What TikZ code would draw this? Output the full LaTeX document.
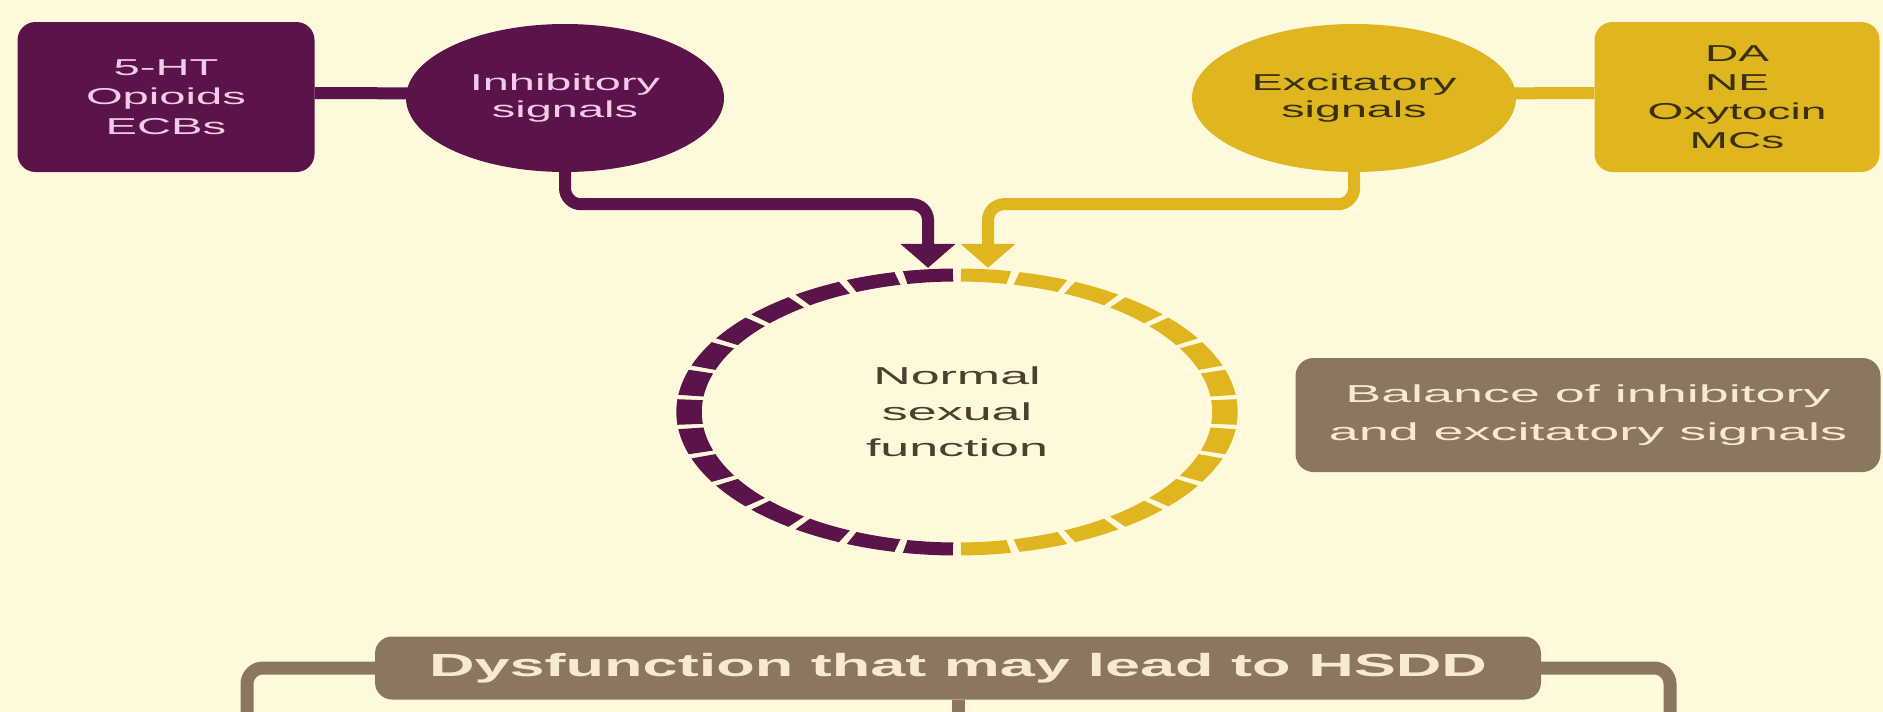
\documentclass[tikz,border=0pt]{standalone}
\usepackage{fontspec}
\setmainfont{Liberation Sans}
\usepackage{graphicx}
\usetikzlibrary{arrows.meta,shapes.geometric}
\pgfdeclarelayer{bgfill}
\pgfdeclarelayer{wires}
\pgfsetlayers{bgfill,wires,main}
\definecolor{bgc}{HTML}{FFF9DC}
\definecolor{plum}{HTML}{5A1449}
\definecolor{gold}{HTML}{DFB620}
\definecolor{taupe}{HTML}{8B775F}
\definecolor{pinktxt}{HTML}{F2CBE4}
\definecolor{darktxt}{HTML}{3A3010}
\definecolor{normtxt}{HTML}{4A4030}
\definecolor{creamtxt}{HTML}{F7EAD2}
\newcommand{\xs}[1]{\scalebox{\myxs}[1]{#1}}
\def\myxs{2}
\begin{document}
\begin{tikzpicture}[x=1pt,y=-1pt,
  rbox/.style={rectangle, rounded corners=18pt, inner sep=0pt, align=center},
  oval/.style={ellipse, inner sep=0pt, align=center},
  pwire/.style={draw=plum, line width=12pt},
  gwire/.style={draw=gold, line width=12pt},
  twire/.style={draw=taupe, line width=13pt},
  tip/.style={-{Triangle[width=54pt,length=24pt]}}
]
\useasboundingbox (0,0) rectangle (1883,712);
\begin{pgfonlayer}{bgfill}
\fill[bgc] (0,0) rectangle (1883,712);
\end{pgfonlayer}

\node[rbox, fill=plum, text=pinktxt, minimum width=297pt, minimum height=150pt,
  font=\fontsize{23}{29.5}\selectfont\def\myxs{2.05}] (ser) at (166,97)
  {\xs{5-HT}\\\xs{Opioids}\\\xs{ECBs}};
\node[oval, fill=plum, text=pinktxt, minimum width=318pt, minimum height=148pt,
  font=\fontsize{23}{27.6}\selectfont\def\myxs{2.04}] (inh) at (565,98)
  {\xs{Inhibitory}\\\xs{signals}};
\node[oval, fill=gold, text=darktxt, minimum width=324pt, minimum height=148pt,
  font=\fontsize{23}{27.6}\selectfont\def\myxs{2.03}] (exc) at (1354,98)
  {\xs{Excitatory}\\\xs{signals}};
\node[rbox, fill=gold, text=darktxt, minimum width=285pt, minimum height=150pt,
  font=\fontsize{23}{29}\selectfont\def\myxs{2}] (cat) at (1737,97)
  {\xs{DA}\\\xs{NE}\\\xs{Oxytocin}\\\xs{MCs}};

\node[oval, minimum width=562pt, minimum height=288pt, text=normtxt,
  font=\fontsize{24.5}{36}\selectfont\def\myxs{2.12}] (normal) at (957,412)
  {\xs{Normal}\\\xs{sexual}\\\xs{function}};

\node[rbox, fill=taupe, text=creamtxt, minimum width=585pt, minimum height=114pt,
  font=\fontsize{24.5}{38}\selectfont\def\myxs{2.2}] (bal) at (1588,415)
  {\xs{Balance of inhibitory}\\\xs{and excitatory signals}};

\node[rbox, rounded corners=17pt, fill=taupe, text=creamtxt, minimum width=1166pt, minimum height=63pt,
  font=\fontsize{32}{38}\selectfont\bfseries\def\myxs{1.97}] (dys) at (958,668)
  {\xs{Dysfunction that may lead to HSDD}};

\coordinate (lb) at (247,712);
\coordinate (rb) at (1670,712);
\coordinate (cb) at (958,712);

\begin{pgfonlayer}{wires}
\draw[pwire] ([yshift=4pt]ser.east) -- ([yshift=4pt]inh.center);
\draw[gwire] ([yshift=4pt]cat.west) -- ([yshift=4pt]exc.center);
\draw[pwire, rounded corners=16pt, tip] (inh.center) -- (inh.south) -- ++(0,32) -| ([xshift=-29pt]normal.north);
\draw[gwire, rounded corners=16pt, tip] (exc.center) -- (exc.south) -- ++(0,32) -| ([xshift=31pt]normal.north);
\draw[twire, rounded corners=16pt] (dys.west) -| (lb);
\draw[twire, rounded corners=16pt] (dys.east) -| (rb);
\draw[twire] (dys.south) -- (cb);
\end{pgfonlayer}

\begin{scope}[transform canvas={shift={(957,412)}, xscale=1.956}]
\foreach \k in {0,...,14}{
  \draw[plum, line width=13pt] ({90+12*\k+0.85}:137) arc[start angle={90+12*\k+0.85}, end angle={90+12*\k+11.15}, radius=137];
  \draw[gold, line width=13pt] ({-90+12*\k+0.85}:137) arc[start angle={-90+12*\k+0.85}, end angle={-90+12*\k+11.15}, radius=137];
}
\end{scope}
\end{tikzpicture}
\end{document}
